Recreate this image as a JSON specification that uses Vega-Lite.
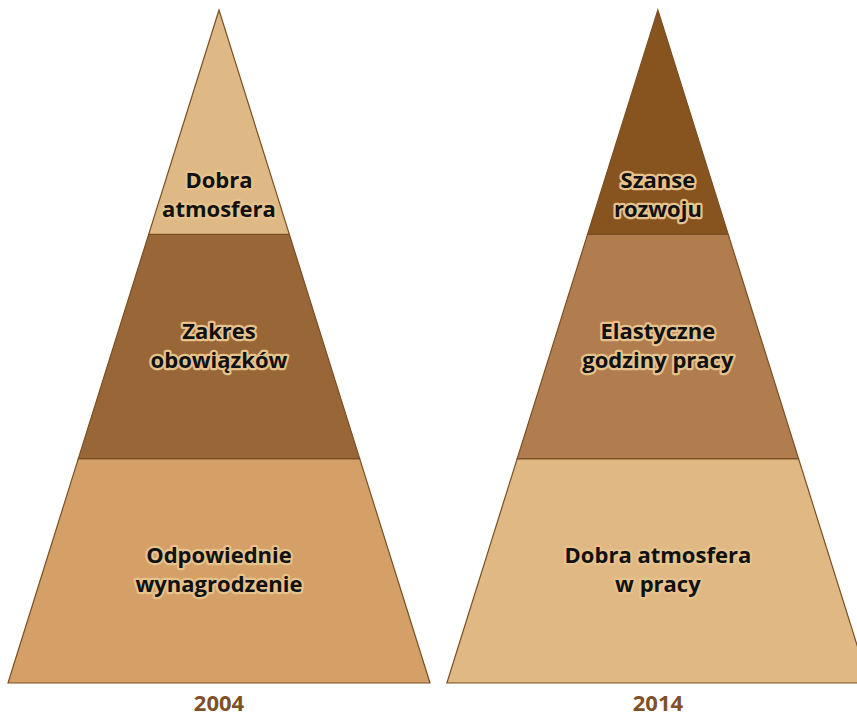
{
  "$schema": "https://vega.github.io/schema/vega-lite/v6.json",
  "width": 857,
  "height": 717,
  "autosize": {"type": "fit", "contains": "padding"},
  "padding": 0,
  "background": "white",
  "config": {"view": {"stroke": null}},
  "datasets": {
    "shapes": [
      {"segment": "2004-bot", "level": 0, "left": 0, "right": 2},
      {"segment": "2004-bot", "level": 1, "left": 0.3333, "right": 1.6667},
      {"segment": "2004-mid", "level": 1, "left": 0.3333, "right": 1.6667},
      {"segment": "2004-mid", "level": 2, "left": 0.6667, "right": 1.3333},
      {"segment": "2004-top", "level": 2, "left": 0.6667, "right": 1.3333},
      {"segment": "2004-top", "level": 3, "left": 1, "right": 1},
      {"segment": "2014-bot", "level": 0, "left": 2.08, "right": 4.08},
      {"segment": "2014-bot", "level": 1, "left": 2.4133, "right": 3.7467},
      {"segment": "2014-mid", "level": 1, "left": 2.4133, "right": 3.7467},
      {"segment": "2014-mid", "level": 2, "left": 2.7467, "right": 3.4133},
      {"segment": "2014-top", "level": 2, "left": 2.7467, "right": 3.4133},
      {"segment": "2014-top", "level": 3, "left": 3.08, "right": 3.08}
    ],
    "labels": [
      {"x": 1, "level": 2.238, "label": ["Dobra", "atmosfera"]},
      {"x": 1, "level": 1.565, "label": ["Zakres", "obowiązków"]},
      {"x": 1, "level": 0.566, "label": ["Odpowiednie", "wynagrodzenie"]},
      {"x": 3.08, "level": 2.238, "label": ["Szanse", "rozwoju"]},
      {"x": 3.08, "level": 1.563, "label": ["Elastyczne", "godziny pracy"]},
      {"x": 3.08, "level": 0.566, "label": ["Dobra atmosfera", "w pracy"]}
    ],
    "years": [
      {"x": 1, "level": -0.094, "year": "2004"},
      {"x": 3.08, "level": -0.094, "year": "2014"}
    ]
  },
  "encoding": {
    "y": {"field": "level", "type": "quantitative", "scale": {"domain": [-0.1516, 3.0446], "nice": false, "zero": false}, "axis": null}
  },
  "layer": [
    {
      "data": {"name": "shapes"},
      "mark": {"type": "area", "orient": "horizontal", "stroke": "#7a4e22", "strokeWidth": 1.2, "clip": true, "fillOpacity": 1},
      "encoding": {
        "x": {"field": "left", "type": "quantitative", "stack": null, "scale": {"domain": [-0.0379, 4.0237], "nice": false, "zero": false}, "axis": null},
        "x2": {"field": "right"},
        "color": {
          "field": "segment",
          "type": "nominal",
          "scale": {
            "domain": ["2004-top", "2004-mid", "2004-bot", "2014-top", "2014-mid", "2014-bot"],
            "range": ["#dfb985", "#996637", "#d4a067", "#87531f", "#b17d4f", "#e0b884"]
          },
          "legend": null
        }
      }
    },
    {
      "data": {"name": "labels"},
      "mark": {"type": "text", "font": "Open Sans", "fontWeight": "bold", "fontSize": 22, "lineHeight": 29, "align": "center", "baseline": "middle", "stroke": "#e6c28c", "strokeWidth": 4.5, "strokeJoin": "round", "fill": "#e6c28c"},
      "encoding": {
        "x": {"field": "x", "type": "quantitative"},
        "text": {"field": "label"}
      }
    },
    {
      "data": {"name": "labels"},
      "mark": {"type": "text", "font": "Open Sans", "fontWeight": "bold", "fontSize": 22, "lineHeight": 29, "align": "center", "baseline": "middle", "fill": "#111111"},
      "encoding": {
        "x": {"field": "x", "type": "quantitative"},
        "text": {"field": "label"}
      }
    },
    {
      "data": {"name": "years"},
      "mark": {"type": "text", "font": "Open Sans", "fontWeight": "bold", "fontSize": 22, "align": "center", "baseline": "middle", "fill": "#7f5126"},
      "encoding": {
        "x": {"field": "x", "type": "quantitative"},
        "text": {"field": "year"}
      }
    }
  ]
}
